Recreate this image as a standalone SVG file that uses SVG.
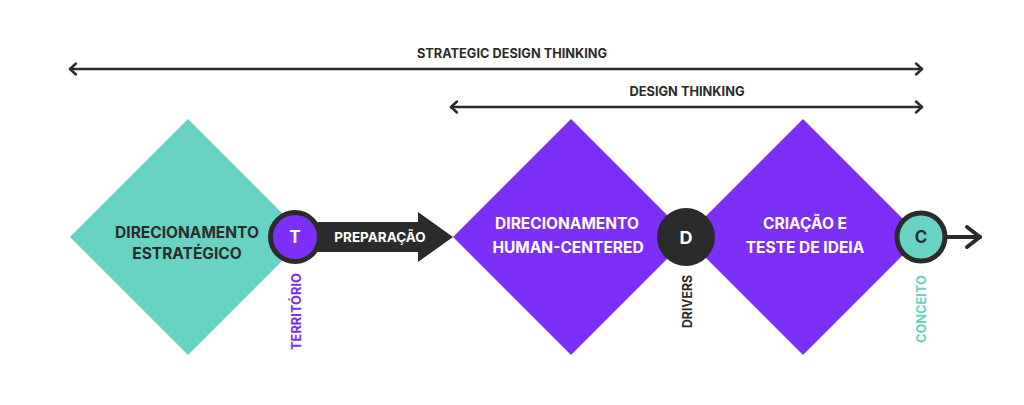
<svg xmlns="http://www.w3.org/2000/svg" width="1024" height="405" viewBox="0 0 1024 405">
  <style>
    text { font-family: Inter, "Liberation Sans", sans-serif; font-weight: 700; }
    .hdr { font-size: 13px; fill: #2b2b2b; text-anchor: middle; }
    .dtxt { font-size: 15.5px; text-anchor: middle; }
    .dark { fill: #2b2b2b; }
    .white { fill: #ffffff; }
    .vlab { font-size: 13px; text-anchor: start; }
    .line { stroke: #2b2b2b; stroke-width: 2.5; fill: none; stroke-linecap: round; stroke-linejoin: round; }
    .teal { fill: #68d2c3; }
    .purple { fill: #7b2ff7; }
  </style>

  <rect width="1024" height="405" fill="#ffffff"/>

  <g id="scope-strategic">
    <text class="hdr" x="512" y="58" textLength="190" lengthAdjust="spacingAndGlyphs">STRATEGIC DESIGN THINKING</text>
    <line class="line" x1="70" y1="69" x2="922" y2="69"/>
    <polyline class="line" points="76,63.5 70,69 76,74.5"/>
    <polyline class="line" points="916,63.5 922,69 916,74.5"/>
  </g>
  <g id="scope-design">
    <text class="hdr" x="687" y="96" textLength="115" lengthAdjust="spacingAndGlyphs">DESIGN THINKING</text>
    <line class="line" x1="451" y1="107" x2="922" y2="107"/>
    <polyline class="line" points="457,101.5 451,107 457,112.5"/>
    <polyline class="line" points="916,101.5 922,107 916,112.5"/>
  </g>

  <g id="node-direcionamento-estrategico">
    <polygon class="teal" points="188,119 306,237 188,355 70,237"/>
    <text class="dtxt dark" x="187" y="238">DIRECIONAMENTO</text>
    <text class="dtxt dark" x="187" y="259">ESTRATÉGICO</text>
  </g>

  <g id="node-human-centered">
    <polygon class="purple" points="571,119 689,237 571,355 453,237"/>
    <text class="dtxt white" x="567" y="229">DIRECIONAMENTO</text>
    <text class="dtxt white" x="568" y="253">HUMAN-CENTERED</text>
  </g>

  <g id="node-criacao">
    <polygon class="purple" points="803,119 921,237 803,355 685,237"/>
    <text class="dtxt white" x="805" y="229">CRIAÇÃO E</text>
    <text class="dtxt white" x="805" y="253">TESTE DE IDEIA</text>
  </g>

  <g id="connectors">
    <g id="arrow-preparacao">
      <polygon fill="#2b2b2b" points="318,222 418,222 418,212 453,237 418,262 418,252 318,252"/>
      <text class="white" x="380" y="241.5" text-anchor="middle" font-size="13.5">PREPARAÇÃO</text>
    </g>
    <g id="arrow-out">
      <line x1="946" y1="237" x2="980" y2="237" stroke="#2b2b2b" stroke-width="4" stroke-linecap="round"/>
      <polyline points="967,227 980,237 967,247" fill="none" stroke="#2b2b2b" stroke-width="4" stroke-linecap="round" stroke-linejoin="round"/>
    </g>
  </g>

  <g id="node-territorio">
    <circle cx="295" cy="237" r="24.5" fill="#7b2ff7" stroke="#2b2b2b" stroke-width="5"/>
    <text class="white" x="295" y="243" text-anchor="middle" font-size="17">T</text>
    <text class="vlab" fill="#7b2ff7" transform="translate(301,350) rotate(-90)" textLength="77" lengthAdjust="spacingAndGlyphs">TERRITÓRIO</text>
  </g>

  <g id="node-drivers">
    <circle cx="686" cy="237" r="29" fill="#2b2b2b"/>
    <text class="white" x="686" y="243.5" text-anchor="middle" font-size="18">D</text>
    <text class="vlab" fill="#2b2b2b" transform="translate(692,328) rotate(-90)" textLength="53" lengthAdjust="spacingAndGlyphs">DRIVERS</text>
  </g>

  <g id="node-conceito">
    <circle cx="921" cy="237" r="24" fill="#68d2c3" stroke="#2b2b2b" stroke-width="5"/>
    <text class="dark" x="921" y="243" text-anchor="middle" font-size="17">C</text>
    <text class="vlab" fill="#68d2c3" transform="translate(926,343) rotate(-90)" textLength="68" lengthAdjust="spacingAndGlyphs">CONCEITO</text>
  </g>
</svg>
